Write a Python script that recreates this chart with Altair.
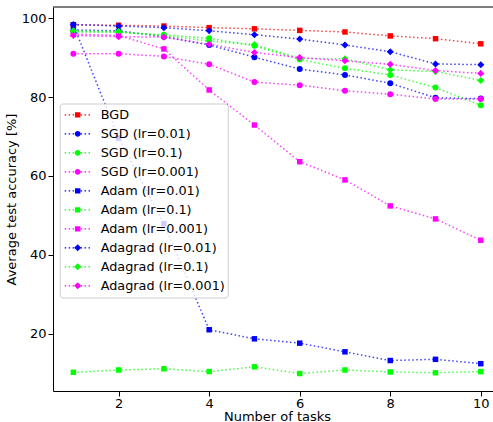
import altair as alt
import pandas as pd

# ---------------- data ----------------
tasks = [1, 2, 3, 4, 5, 6, 7, 8, 9, 10]

series_names = [
    "BGD",
    "SGD (lr=0.01)",
    "SGD (lr=0.1)",
    "SGD (lr=0.001)",
    "Adam (lr=0.01)",
    "Adam (lr=0.1)",
    "Adam (lr=0.001)",
    "Adagrad (lr=0.01)",
    "Adagrad (lr=0.1)",
    "Adagrad (lr=0.001)",
]
series_colors = ["#ff0000", "#0000ff", "#00ff00", "#ff00ff",
                 "#0000ff", "#00ff00", "#ff00ff",
                 "#0000ff", "#00ff00", "#ff00ff"]
series_markers = ["square", "circle", "circle", "circle",
                  "square", "square", "square",
                  "diamond", "diamond", "diamond"]

bgd = [98.3, 98.2, 98.0, 97.6, 97.3, 96.9, 96.5, 95.5, 94.8, 93.5]
sgd_lr001 = [97.0, 96.8, 95.3, 93.2, 90.1, 87.1, 85.6, 83.5, 79.8, 79.6]
sgd_lr01 = [96.5, 96.4, 95.8, 94.9, 93.0, 89.5, 87.3, 85.6, 82.4, 77.9]
sgd_lr0001 = [91.0, 91.0, 90.3, 88.3, 83.8, 83.0, 81.6, 80.7, 79.5, 79.5]
adam_lr001 = [98.3, 69.6, 47.9, 21.0, 18.7, 17.6, 15.4, 13.2, 13.5, 12.4]
adam_lr01 = [10.2, 10.8, 11.1, 10.4, 11.6, 9.9, 10.8, 10.3, 10.1, 10.4]
adam_lr0001 = [96.0, 95.6, 92.2, 81.8, 72.9, 63.6, 59.0, 52.4, 49.1, 43.7]
adagrad_lr001 = [98.4, 98.0, 97.6, 96.8, 95.8, 94.7, 93.2, 91.5, 88.4, 88.2]
adagrad_lr01 = [96.8, 96.6, 95.5, 94.2, 93.3, 89.8, 89.7, 86.9, 86.5, 84.2]
adagrad_lr0001 = [95.6, 95.3, 95.2, 93.4, 91.3, 90.0, 89.2, 88.3, 86.7, 86.0]

series_values = [bgd, sgd_lr001, sgd_lr01, sgd_lr0001,
                 adam_lr001, adam_lr01, adam_lr0001,
                 adagrad_lr001, adagrad_lr01, adagrad_lr0001]

x_ticks = [2, 4, 6, 8, 10]
y_ticks = [20, 40, 60, 80, 100]

rows = []
for name, vals in zip(series_names, series_values):
    for t, v in zip(tasks, vals):
        rows.append({"tasks": t, "acc": v, "series": name})
df = pd.DataFrame(rows)

# ---------------- styling ----------------
FONT = "DejaVu Sans"
W, H = 440, 384

x_enc = alt.X("tasks:Q",
              scale=alt.Scale(domain=[0.55, 10.27], nice=False, zero=False),
              axis=alt.Axis(values=x_ticks, grid=False, title="Number of tasks",
                            tickSize=5, labelPadding=1, titlePadding=0,
                            titleX=224, format="d"))
y_enc = alt.Y("acc:Q",
              scale=alt.Scale(domain=[5.47, 102.83], nice=False, zero=False),
              axis=alt.Axis(values=y_ticks, grid=False,
                            title="Average test accuracy [%]",
                            tickSize=5, labelPadding=2, titlePadding=3,
                            format="d"))
color_scale = alt.Scale(domain=series_names, range=series_colors)


def legend_path(marker):
    k = 13.0
    px = 1.0 / k
    parts = []
    dot_w = 1.5 * px
    dot_h = 0.7 * px
    period = 3.97 * px
    xp = -1.0
    while xp + dot_w <= 1.0001:
        parts.append(f"M{xp:.4f},{-dot_h:.4f}h{dot_w:.4f}v{2*dot_h:.4f}h{-dot_w:.4f}Z")
        xp += period
    if marker == "square":
        r = 2.7 * px
        parts.append(f"M{-r:.4f},{-r:.4f}h{2*r:.4f}v{2*r:.4f}h{-2*r:.4f}Z")
    elif marker == "circle":
        r = 2.9 * px
        parts.append(f"M{r:.4f},0A{r:.4f},{r:.4f} 0 1,1 {-r:.4f},0A{r:.4f},{r:.4f} 0 1,1 {r:.4f},0Z")
    else:
        r = 3.5 * px
        parts.append(f"M0,{-r:.4f}L{r:.4f},0L0,{r:.4f}L{-r:.4f},0Z")
    return "".join(parts)


legend_shapes = [legend_path(m) for m in series_markers]
marker_sizes = {"square": 30, "circle": 36, "diamond": 50}

layers = []
for name, marker in zip(series_names, series_markers):
    base = alt.Chart(df).transform_filter(alt.datum.series == name)
    line = base.mark_line(strokeDash=[1.5, 2.5], strokeWidth=1.5, opacity=0.75).encode(
        x=x_enc, y=y_enc,
        color=alt.Color("series:N", scale=color_scale, legend=None))
    pts = base.mark_point(filled=True, shape=marker, size=marker_sizes[marker], opacity=1).encode(
        x=x_enc, y=y_enc,
        color=alt.Color("series:N", scale=color_scale, legend=None))
    layers += [line, pts]

leg = alt.Legend(orient="none", legendX=6.7, legendY=96.5, title=None)

# layer that only drives the legend (drawn underneath, fully covered)
legend_layer = alt.Chart(df).mark_point(filled=True, size=1).encode(
    x=x_enc, y=y_enc,
    color=alt.Color("series:N", scale=color_scale, legend=leg),
    shape=alt.Shape("series:N", scale=alt.Scale(domain=series_names, range=legend_shapes), legend=leg))

top_spine = alt.Chart(alt.Data(values=[{"a": 0}])).mark_rule(color="black", strokeWidth=1).encode(
    y=alt.value(0), x=alt.value(0), x2=alt.value(W))

chart = alt.layer(legend_layer, *layers, top_spine).properties(
    width=W, height=H,
    autosize=alt.AutoSizeParams(type="none"),
    padding={"left": 53, "top": 7, "right": 0, "bottom": 31},
    background="white",
).configure_view(stroke=None).configure_axis(
    labelFont=FONT, titleFont=FONT, labelFontSize=13, titleFontSize=13,
    titleFontWeight="normal", labelColor="black", titleColor="black",
    domainColor="black", tickColor="black", domainWidth=1, tickWidth=1,
).configure_legend(
    labelFont=FONT, labelFontSize=12.8, labelColor="black",
    labelOffset=10, symbolSize=676, symbolStrokeWidth=0,
    symbolOpacity=1, padding=2, rowPadding=0, clipHeight=18.74, symbolOffset=3,
    fillColor="rgba(255,255,255,0.8)", strokeColor="#cccccc",
    cornerRadius=3, labelLimit=300,
)

chart.save("out.html", embed_options={"renderer": "svg", "actions": False})
